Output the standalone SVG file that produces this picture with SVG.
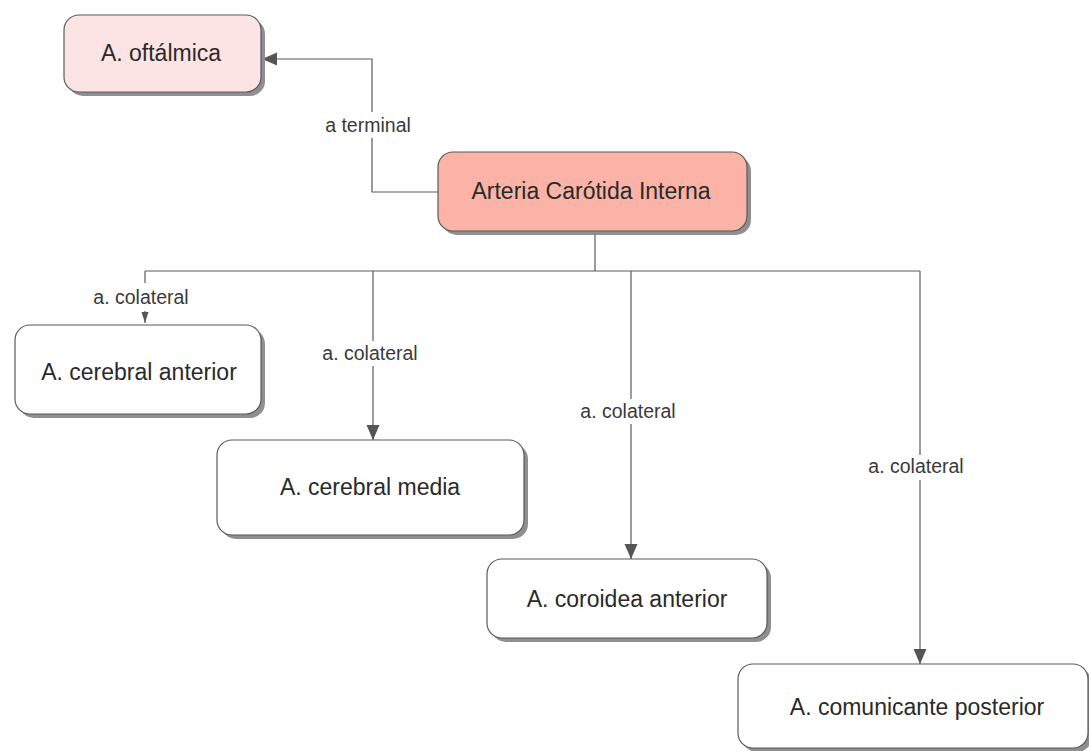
<svg xmlns="http://www.w3.org/2000/svg" width="1089" height="751" viewBox="0 0 1089 751">
  <defs>
    <marker id="arrow" markerWidth="15" markerHeight="14" refX="15" refY="7" orient="auto" markerUnits="userSpaceOnUse">
      <path d="M0,0.5 L15,7 L0,13.5 Z" fill="#555"/>
    </marker>
    <marker id="arrowSmall" markerWidth="11" markerHeight="8" refX="11" refY="4" orient="auto" markerUnits="userSpaceOnUse">
      <path d="M0,0.5 L11,4 L0,7.5 Z" fill="#555"/>
    </marker>
  </defs>
  <style>
    .shadow { fill: #8f8f8f; }
    .box { stroke: #5a5a5a; stroke-width: 1.2; }
    .plain { fill: #ffffff; }
    .pink { fill: #fde4e4; }
    .salmon { fill: #fbb2a7; }
    .label { font-family: "Liberation Sans", Arial, sans-serif; font-size: 23px; fill: #2a2a2a; text-anchor: middle; dominant-baseline: central; }
    .edge { fill: none; stroke: #5a5a5a; stroke-width: 1.2; }
    .elabel { font-family: "Liberation Sans", Arial, sans-serif; font-size: 19.5px; fill: #3a3a3a; text-anchor: middle; dominant-baseline: central; }
    .lbg { fill: #ffffff; }
  </style>
  <rect width="1089" height="751" fill="#ffffff"/>

  <g id="connectors">
    <!-- terminal branch -->
    <path class="edge" d="M438,192 H372 V59 H262" marker-end="url(#arrow)"/>
    <rect class="lbg" x="314" y="112" width="108" height="26"/>
    <text class="elabel" x="368" y="125">a terminal</text>
    <!-- trunk and bus -->
    <path class="edge" d="M595,231 V271 M145,271 H920"/>
    <!-- collateral branches -->
    <path class="edge" d="M145,271 V323" marker-end="url(#arrowSmall)"/>
    <rect class="lbg" x="86" y="283" width="110" height="28"/>
    <text class="elabel" x="141" y="297">a. colateral</text>
    <path class="edge" d="M373,271 V440" marker-end="url(#arrow)"/>
    <rect class="lbg" x="314" y="341" width="112" height="25"/>
    <text class="elabel" x="370" y="353">a. colateral</text>
    <path class="edge" d="M631,271 V559" marker-end="url(#arrow)"/>
    <rect class="lbg" x="572" y="399" width="112" height="25"/>
    <text class="elabel" x="628" y="411">a. colateral</text>
    <path class="edge" d="M920,271 V664" marker-end="url(#arrow)"/>
    <rect class="lbg" x="860" y="455" width="112" height="25"/>
    <text class="elabel" x="916" y="466">a. colateral</text>
  </g>

  <g id="oftalmica">
    <rect class="shadow" x="68" y="19" width="197" height="77" rx="15"/>
    <rect class="box pink" x="64" y="15" width="197" height="77" rx="15"/>
    <text class="label" x="161" y="53">A. oftálmica</text>
  </g>

  <g id="carotida">
    <rect class="shadow" x="442" y="156" width="309" height="79" rx="15"/>
    <rect class="box salmon" x="438" y="152" width="309" height="79" rx="15"/>
    <text class="label" x="591" y="191">Arteria Carótida Interna</text>
  </g>

  <g id="cerebral-anterior">
    <rect class="shadow" x="19" y="329" width="246" height="89" rx="15"/>
    <rect class="box plain" x="15" y="325" width="246" height="89" rx="15"/>
    <text class="label" x="139" y="372">A. cerebral anterior</text>
  </g>

  <g id="cerebral-media">
    <rect class="shadow" x="221" y="444" width="307" height="95" rx="15"/>
    <rect class="box plain" x="217" y="440" width="307" height="95" rx="15"/>
    <text class="label" x="370" y="487">A. cerebral media</text>
  </g>

  <g id="coroidea-anterior">
    <rect class="shadow" x="491" y="563" width="280" height="79" rx="15"/>
    <rect class="box plain" x="487" y="559" width="280" height="79" rx="15"/>
    <text class="label" x="627" y="599">A. coroidea anterior</text>
  </g>

  <g id="comunicante-posterior">
    <rect class="shadow" x="742" y="668" width="350" height="84" rx="15"/>
    <rect class="box plain" x="738" y="664" width="350" height="84" rx="15"/>
    <text class="label" x="917" y="707">A. comunicante posterior</text>
  </g>
</svg>
